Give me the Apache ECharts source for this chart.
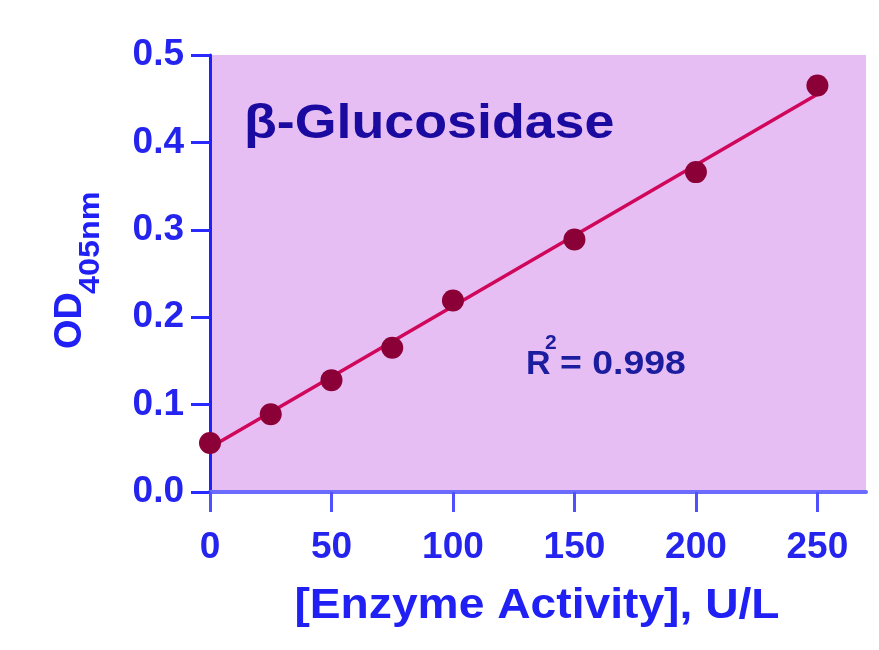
<!DOCTYPE html>
<html>
<head>
<meta charset="utf-8">
<script src="https://cdn.jsdelivr.net/npm/echarts@6/dist/echarts.min.js"></script>
<style>
html,body{margin:0;padding:0;background:#fff;}
#c{width:879px;height:650px;}
</style>
</head>
<body>
<div id="c"></div>
<script>
// Data
const enzymeActivity = [0, 25, 50, 75, 100, 150, 200, 250];
const odValues = [0.056, 0.089, 0.128, 0.165, 0.219, 0.289, 0.366, 0.465];
const fitX = [0, 250];
const fitY = [0.051, 0.455];
const xTicks = [0, 50, 100, 150, 200, 250];
const yTicks = [0, 0.1, 0.2, 0.3, 0.4, 0.5];
const chartTitle = 'β-Glucosidase';
const xAxisTitle = '[Enzyme Activity], U/L';
const yAxisTitleMain = 'OD';
const yAxisTitleSub = '405nm';
const r2Label = '0.998';

const FONT = '"Liberation Sans", Arial, Helvetica, sans-serif';
const chart = echarts.init(document.getElementById('c'), null, {renderer: 'canvas'});

const points = enzymeActivity.map((x, i) => [x, odValues[i]]);
const fitPoints = fitX.map((x, i) => [x, fitY[i]]);

chart.setOption({
  animation: false,
  backgroundColor: '#ffffff',
  grid: {
    left: 210, right: 13, top: 55, bottom: 158,
    show: true, backgroundColor: '#e7bef4', borderWidth: 0
  },
  xAxis: {
    type: 'value', min: 0, max: 270, interval: 50,
    splitLine: {show: false},
    axisLine: {show: true, onZero: false, lineStyle: {color: '#6b6bff', width: 4}},
    axisTick: {show: true, length: 20, inside: false, customValues: xTicks,
               lineStyle: {color: '#5050ff', width: 3}},
    axisLabel: {customValues: xTicks, margin: 37, color: '#2424ee',
                fontFamily: FONT, fontSize: 37, fontWeight: 'bold'}
  },
  yAxis: {
    type: 'value', min: 0, max: 0.5, interval: 0.1,
    splitLine: {show: false},
    axisLine: {show: true, onZero: false, lineStyle: {color: '#1f1fff', width: 3}},
    axisTick: {show: true, length: 19, customValues: yTicks,
               lineStyle: {color: '#2a2aff', width: 3}},
    axisLabel: {customValues: yTicks, margin: 26, color: '#2424ee',
                fontFamily: FONT, fontSize: 37, fontWeight: 'bold',
                formatter: v => v.toFixed(1)}
  },
  series: [
    {
      type: 'line', data: fitPoints, showSymbol: false, symbol: 'none',
      lineStyle: {color: '#d0065a', width: 3.5}, clip: false, z: 2
    },
    {
      type: 'scatter', data: points, symbol: 'circle', symbolSize: 22,
      itemStyle: {color: '#8c0038', opacity: 1}, clip: false, z: 3
    }
  ],
  graphic: [
    {
      type: 'text', x: 244, y: 101, scaleX: 1.12, z: 10,
      style: {text: chartTitle, font: 'bold 48px ' + FONT, fill: '#1a0aa0',
              align: 'left', verticalAlign: 'top'}
    },
    {
      type: 'text', x: 537, y: 585, scaleX: 1.1, z: 10,
      style: {text: xAxisTitle, font: 'bold 42px ' + FONT, fill: '#2020f5',
              align: 'center', verticalAlign: 'top'}
    },
    {
      type: 'text', x: 52, y: 349, rotation: Math.PI / 2, z: 10,
      style: {text: yAxisTitleMain, font: 'bold 38px ' + FONT, fill: '#2020f5',
              align: 'left', verticalAlign: 'top'}
    },
    {
      type: 'text', x: 76, y: 294, rotation: Math.PI / 2, scaleX: 1.08, z: 10,
      style: {text: yAxisTitleSub, font: 'bold 30px ' + FONT, fill: '#2020f5',
              align: 'left', verticalAlign: 'top'}
    },
    {
      type: 'text', x: 526, y: 348, z: 10,
      style: {text: 'R', font: 'bold 34px ' + FONT, fill: '#1c1c9e',
              align: 'left', verticalAlign: 'top'}
    },
    {
      type: 'text', x: 545, y: 333, z: 10,
      style: {text: '2', font: 'bold 21px ' + FONT, fill: '#1c1c9e',
              align: 'left', verticalAlign: 'top'}
    },
    {
      type: 'text', x: 560, y: 348, scaleX: 1.1, z: 10,
      style: {text: '= ' + r2Label, font: 'bold 34px ' + FONT, fill: '#1c1c9e',
              align: 'left', verticalAlign: 'top'}
    }
  ]
});
</script>
</body>
</html>
